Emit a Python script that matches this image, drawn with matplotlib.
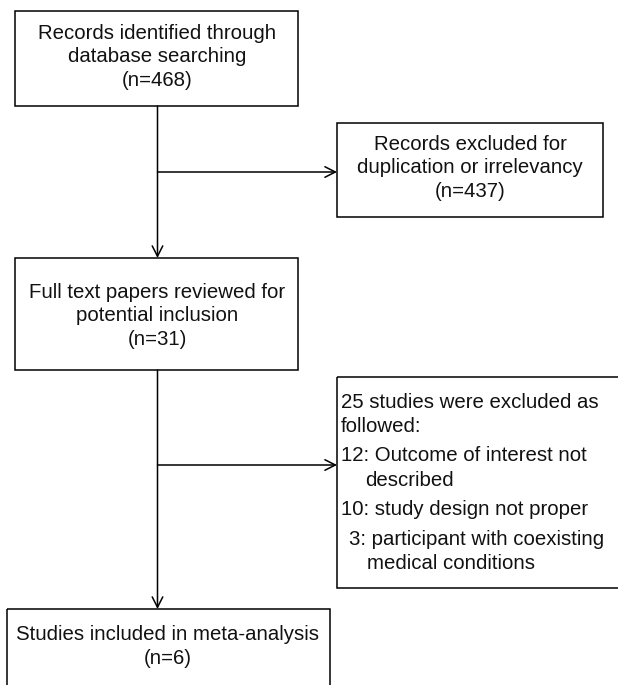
import matplotlib.pyplot as plt
from matplotlib.patches import Rectangle

plt.rcParams['font.family'] = ['Liberation Sans', 'DejaVu Sans']

# box texts
box_identified = ['Records identified through', 'database searching', '(n=468)']
box_excluded = ['Records excluded for', 'duplication or irrelevancy', '(n=437)']
box_fulltext = ['Full text papers reviewed for', 'potential inclusion', '(n=31)']
box_included = ['Studies included in meta-analysis', '(n=6)']
excl_lines = ['25 studies were excluded as', 'followed:',
              '12: Outcome of interest not', 'described',
              '10: study design not proper', '3: participant with coexisting',
              'medical conditions']
excl_group = [0, 0, 1, 1, 2, 3, 3]      # paragraph each line belongs to
excl_indent = [0, 0, 0, 24, 0, 8, 26]   # left offset of each line, px

W, H = 618, 685
fig = plt.figure(figsize=(W / 100, H / 100), dpi=100)
ax = fig.add_axes([0, 0, 1, 1])
ax.set_xlim(0, W)
ax.set_ylim(H, 0)
ax.axis('off')

LW = 1.1
FS = 14.7


def box(x0, y0, x1, y1):
    ax.add_patch(Rectangle((x0, y0), x1 - x0, y1 - y0, fill=False,
                           edgecolor='black', linewidth=LW, clip_on=True))


def centered(lines, xc, y_first, step=23.8):
    for i, s in enumerate(lines):
        ax.text(xc, y_first + i * step, s, ha='center', va='center',
                fontsize=FS, color='#111111')


def arrow(x0, y0, x1, y1):
    ax.annotate('', xy=(x1, y1), xytext=(x0, y0),
                arrowprops=dict(arrowstyle='->,head_length=0.75,head_width=0.38',
                                color='black', lw=LW, shrinkA=0, shrinkB=0))


# boxes
box(15, 11, 298, 106)
box(337, 123, 603, 217)
box(15, 258, 298, 370)
box(337, 377, 630, 588)
box(7, 609, 330, 700)

centered(box_identified, 157, 33)
centered(box_excluded, 470, 144)
centered(box_fulltext, 157, 292)
centered(box_included, 168, 635, step=23)

# list box: lines inside a paragraph 24.3 px apart, extra gap between paragraphs
for i, s in enumerate(excl_lines):
    y = 402 + i * 24.3 + excl_group[i] * 5.2
    ax.text(341 + excl_indent[i], y, s, ha='left', va='center',
            fontsize=FS, color='#111111')

# connectors
XC = 157.5
arrow(XC, 106, XC, 258)
arrow(XC, 172, 337, 172)
arrow(XC, 370, XC, 609)
arrow(XC, 465, 337, 465)

fig.savefig('out.png', dpi=100, facecolor='white')
